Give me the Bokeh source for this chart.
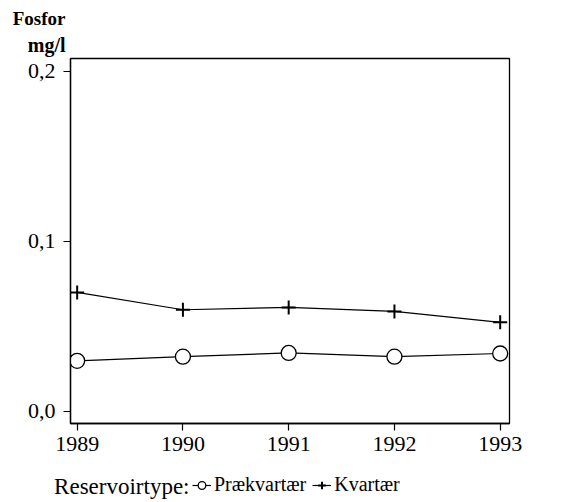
from bokeh.plotting import figure
from bokeh.layouts import column, row
from bokeh.models import (FixedTicker, CustomJSTickFormatter, Legend,
                          LegendItem, Range1d, Title, Label)
from bokeh.embed import file_html
from bokeh.resources import INLINE

years = [1989, 1990, 1991, 1992, 1993]
praekvartaer = [0.0298, 0.0322, 0.0344, 0.0322, 0.0341]
kvartaer = [0.0700, 0.0598, 0.0612, 0.0588, 0.0524]
y_ticks = [0.0, 0.1, 0.2]
x_ticks = years
y_title = ["Fosfor", "mg/l"]
legend_title = "Reservoirtype:"
series_names = ["Prækvartær", "Kvartær"]

FONT = "Liberation Serif"
W = 566
H_MAIN = 468
H_LEG = 32

p = figure(width=W, height=H_MAIN, output_backend="svg", toolbar_location=None,
           x_range=Range1d(1988.937, 1993.088), y_range=Range1d(-0.00706, 0.2075),
           min_border_left=70, min_border_right=57, min_border_top=58,
           min_border_bottom=45)

p.xgrid.grid_line_color = None
p.ygrid.grid_line_color = None
p.outline_line_color = "black"
p.outline_line_width = 1.3
p.background_fill_color = "white"
p.border_fill_color = "white"

for ax in (p.xaxis, p.yaxis):
    ax.axis_line_color = "black"
    ax.axis_line_width = 1.3
    ax.major_tick_line_color = "black"
    ax.major_tick_line_width = 1.2
    ax.minor_tick_line_color = None
    ax.major_tick_in = 0
    ax.major_tick_out = 7
    ax.major_label_text_font = FONT
    ax.major_label_text_font_size = "22px"
    ax.major_label_text_color = "black"

p.yaxis.ticker = FixedTicker(ticks=y_ticks)
p.yaxis.formatter = CustomJSTickFormatter(code="return tick.toFixed(1).replace('.', ',');")
p.yaxis.major_label_standoff = 8
p.xaxis.ticker = FixedTicker(ticks=x_ticks)
p.xaxis.formatter = CustomJSTickFormatter(code="return tick.toFixed(0);")
p.xaxis.major_label_standoff = 6

p.line(years, praekvartaer, line_color="black", line_width=1.2)
p.scatter(years, praekvartaer, marker="circle", size=15, fill_color="white",
          line_color="black", line_width=1.3)
p.line(years, kvartaer, line_color="black", line_width=1.2)
p.scatter(years, kvartaer, marker="cross", size=14, line_color="black",
          line_width=2)

# y title: two bold lines, right edges just left of the frame
p.add_layout(Title(text=y_title[1], align="right", offset=444, text_font=FONT,
                   text_font_size="20px", text_font_style="bold",
                   text_color="black", standoff=6), "above")
p.add_layout(Title(text=y_title[0], align="right", offset=444, text_font=FONT,
                   text_font_size="19px", text_font_style="bold",
                   text_color="black", standoff=0), "above")

# legend row (screen-pixel ranges, frame spans the whole row)
leg = figure(width=W, height=H_LEG, output_backend="svg", toolbar_location=None,
             x_range=Range1d(0, W), y_range=Range1d(0, H_LEG), x_axis_location=None,
             y_axis_location=None, min_border_left=0, min_border_right=0,
             min_border_top=0, min_border_bottom=0)
leg.xgrid.grid_line_color = None
leg.ygrid.grid_line_color = None
leg.outline_line_color = None
leg.background_fill_color = "white"
leg.border_fill_color = "white"

l1 = leg.line(years, praekvartaer, line_color="black", line_width=1.2, visible=False)
s1 = leg.scatter(years, praekvartaer, marker="circle", size=13, fill_color="white",
                 line_color="black", line_width=1.3, visible=False)
l2 = leg.line(years, kvartaer, line_color="black", line_width=1.2, visible=False)
s2 = leg.scatter(years, kvartaer, marker="cross", size=14, line_color="black",
                 line_width=2, visible=False)

legend = Legend(items=[LegendItem(label=series_names[0], renderers=[l1, s1]),
                       LegendItem(label=series_names[1], renderers=[l2, s2])],
                orientation="horizontal", location=(192, 4),
                label_text_font=FONT, label_text_font_size="20px",
                label_text_color="black", glyph_width=19, glyph_height=20,
                label_height=20, label_standoff=3, spacing=6, padding=0,
                margin=0, border_line_color=None, background_fill_alpha=0)
leg.add_layout(legend, "center")

leg.add_layout(Label(x=189, y=14, text=legend_title, text_align="right",
                     text_baseline="middle", text_font=FONT,
                     text_font_size="23px", text_color="black"))

layout = column(p, row(leg), spacing=0)
open("out.html", "w").write(file_html(layout, INLINE))
